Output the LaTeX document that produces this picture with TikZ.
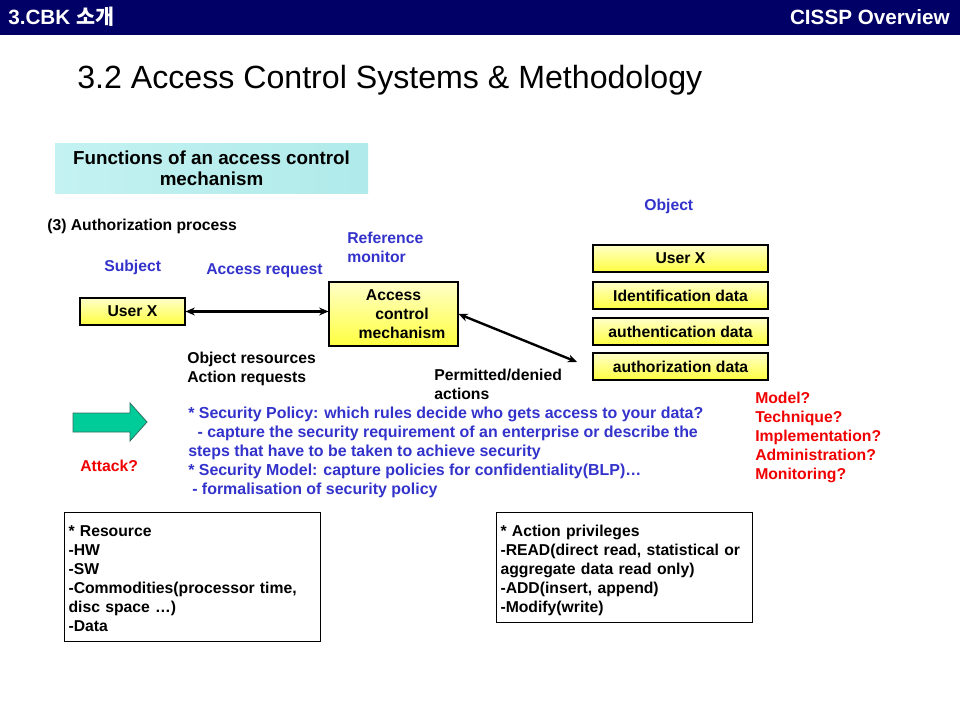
\documentclass[tikz,border=0pt]{standalone}
\usepackage{fontspec}
\setmainfont{Liberation Sans}
\newfontfamily\kr{Noto Sans CJK KR}
\usetikzlibrary{arrows.meta}
\definecolor{navy}{HTML}{000066}
\definecolor{txtblue}{HTML}{3333CC}
\definecolor{txtred}{HTML}{F00000}
\definecolor{arrgreen}{HTML}{00CC99}
\definecolor{arredge}{HTML}{2F6F5F}
\definecolor{ylight}{HTML}{FFFFC8}
\definecolor{ydark}{HTML}{FFFF40}
\definecolor{clight}{HTML}{C4F2F2}
\definecolor{cdark}{HTML}{B0EAEA}
\begin{document}
\begin{tikzpicture}[x=0.75pt,y=-0.75pt,
  body/.style={font=\fontsize{11.8}{14.25}\selectfont\bfseries},
  txt/.style={body, inner sep=0pt, anchor=west, align=left, yshift=-1.5pt},
  ybox/.style={body, draw=black, line width=0.8pt, top color=ylight, bottom color=ydark, inner sep=0pt, align=center},
  wbox/.style={body, draw=black, line width=0.8pt, fill=white, inner xsep=3pt, inner ysep=0pt, align=left, anchor=north west},
  biarrow/.style={line width=1.8pt, {Stealth[length=7pt,width=6pt]}-{Stealth[length=7pt,width=6pt]}}
]
\useasboundingbox (0,0) rectangle (960,720);
\fill[white] (0,0) rectangle (960,720);
\fill[navy] (0,0) rectangle (960,35);
\node[anchor=west, inner sep=0pt, text=white, font=\fontsize{15.5}{18}\selectfont\bfseries] (hdrL) at (8,17) {3.CBK {\kr 소개}};
\node[anchor=east, inner sep=0pt, text=white, font=\fontsize{15.5}{18}\selectfont\bfseries] (hdrR) at (950,17) {CISSP Overview};
\node[anchor=west, inner sep=0pt, font=\fontsize{24.1}{28}\selectfont] (title) at (77,80) {3.2 Access Control Systems \& Methodology};

\node[draw=none, left color=clight, right color=cdark, minimum width=234.75pt, minimum height=37.5pt, inner sep=0pt, align=center, font=\fontsize{14.1}{15.5}\selectfont\bfseries] (func) at (211.5,168.5) {Functions of an access control\\mechanism};

\node[txt] (auth) at (47,224) {(3) Authorization process};
\node[txt, text=txtblue] (objlbl) at (644,204) {Object};
\node[txt, text=txtblue] (refmon) at (347,245.5) {Reference\\monitor};
\node[txt, text=txtblue] (subj) at (104,265) {Subject};
\node[txt, text=txtblue] (accreq) at (206,269) {Access request};

\node[ybox, minimum width=78.75pt, minimum height=20.25pt] (userL) at (132.5,311.5) {User X};
\node[ybox, minimum width=96.75pt, minimum height=48pt] (acm) at (393.5,314) {Access\\\hspace*{12.75pt}control\\\hspace*{12.75pt}mechanism};

\node[ybox, minimum width=131.25pt, minimum height=20.25pt] (ux) at (680.5,258.5) {User X};
\node[ybox, minimum width=131.25pt, minimum height=20.25pt] (idd) at (680.5,295.5) {Identification data};
\node[ybox, minimum width=131.25pt, minimum height=20.25pt] (aud) at (680.5,331.5) {authentication data};
\node[ybox, minimum width=131.25pt, minimum height=20.25pt] (azd) at (680.5,366.5) {authorization data};

\coordinate (pe) at (577,362);
\draw[biarrow] (userL.east) -- (userL.east -| acm.west);
\draw[biarrow] (acm.east) -- (pe);

\node[txt] (objres) at (187,366.5) {Object resources\\Action requests};
\node[txt] (perm) at (434,382.5) {Permitted/denied\\actions};

\draw[fill=arrgreen, draw=arredge, line width=0.6pt] (73,413) -- (130,413) -- (130,403) -- (147,422) -- (130,441) -- (130,432) -- (73,432) -- cycle;
\node[txt, text=txtred] (attack) at (80,464) {Attack?};

\node[txt, text=txtblue, font=\fontsize{11.95}{14.25}\selectfont\bfseries] (policy) at (188,450.5) {* Security Policy: which rules decide who gets access to your data?\\
\hspace*{7pt}- capture the security requirement of an enterprise or describe the\\
steps that have to be taken to achieve security\\
* Security Model: capture policies for confidentiality(BLP)\dots\\
\hspace*{3pt}- formalisation of security policy};

\node[txt, text=txtred] (questions) at (755,435) {Model?\\Technique?\\Implementation?\\Administration?\\Monitoring?};

\node[wbox, text width=186pt, minimum height=96.75pt] (res) at (64,512) {\rule{0pt}{11pt}* Resource\\-HW\\-SW\\-Commodities(processor time,\\disc space \dots)\\-Data};
\node[wbox, text width=186pt, minimum height=82.5pt] (act) at (496,512) {\rule{0pt}{13pt}* Action privileges\\-READ(direct read, statistical or\\aggregate data read only)\\-ADD(insert, append)\\-Modify(write)};
\end{tikzpicture}
\end{document}
